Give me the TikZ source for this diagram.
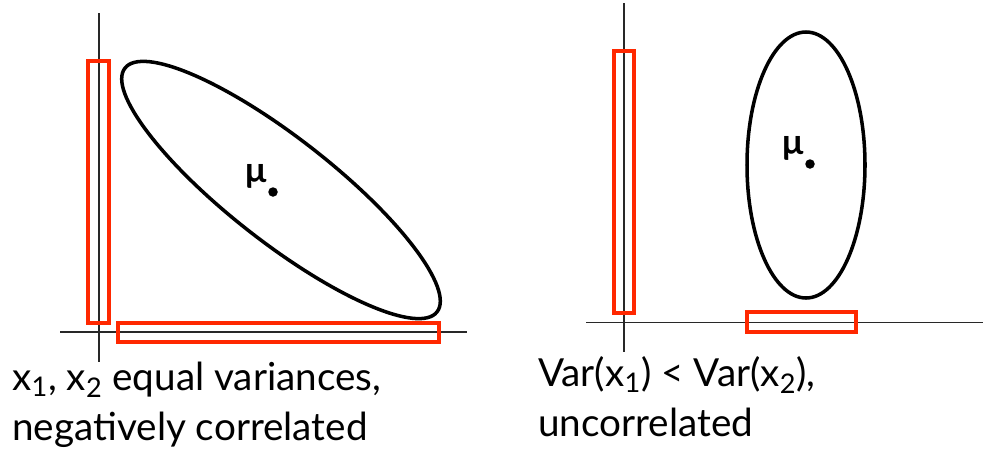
\documentclass[tikz,border=0pt]{standalone}
\usepackage{fontspec}
\setmainfont{Lato}
\definecolor{boxred}{RGB}{255,40,0}
\definecolor{axisgray}{RGB}{40,40,40}
\tikzset{
  axisline/.style={draw=axisgray, line width=0.8pt},
  margbox/.style={draw=boxred, line width=1.9pt},
  contour/.style={draw=black, line width=2pt},
  meandot/.style={fill=black},
  caption/.style={anchor=base west, inner sep=0pt, font=\fontsize{22}{26}\selectfont},
  mulabel/.style={font=\fontsize{20}{24}\selectfont\bfseries}
}
\begin{document}
\begin{tikzpicture}
\useasboundingbox (0,0) rectangle (19.68,-9.06);

% =========================================================
% left: equal variances, negative correlation
% =========================================================

\draw[axisline] (1.98,-0.26) -- (1.98,-7.24);
\draw[axisline] (1.20,-6.64) -- (9.34,-6.64);

\draw[margbox] (1.76,-1.22) rectangle (2.18,-6.46);
\draw[margbox] (2.36,-6.46) rectangle (8.78,-6.84);

\draw[contour] (5.62,-3.80) ellipse[x radius=3.96, y radius=1.04, rotate=-38];

\fill[meandot] (5.46,-3.84) circle (0.095);
\node[mulabel] (muL) at (5.12,-3.52) {μ};

\node[caption] (capLa) at (0.24,-7.80) {x\textsubscript{1}, x\textsubscript{2} equal variances,};
\node[caption] (capLb) at (0.24,-8.80) {negatively correlated};


% =========================================================
% right: unequal variances, uncorrelated
% =========================================================

\draw[axisline] (12.48,-0.06) -- (12.48,-7.04);
\draw[axisline] (11.72,-6.45) -- (19.66,-6.45);

\draw[margbox] (12.28,-1.02) rectangle (12.68,-6.26);
\draw[margbox] (14.94,-6.24) rectangle (17.12,-6.64);

\draw[contour] (16.12,-3.30) ellipse[x radius=1.18, y radius=2.66];

\fill[meandot] (16.20,-3.28) circle (0.095);
\node[mulabel] (muR) at (15.86,-2.96) {μ};

\node[caption] (capRa) at (10.76,-7.72) {Var(x\textsubscript{1}) < Var(x\textsubscript{2}),};
\node[caption] (capRb) at (10.76,-8.72) {uncorrelated};

\end{tikzpicture}
\end{document}
